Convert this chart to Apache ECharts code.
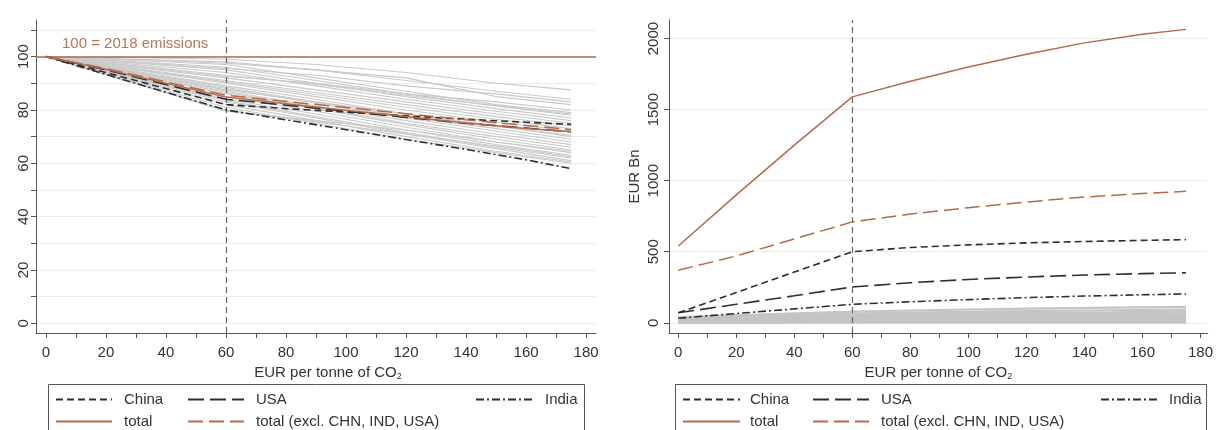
<!DOCTYPE html>
<html>
<head>
<meta charset="utf-8">
<script src="https://cdn.jsdelivr.net/npm/echarts@6/dist/echarts.min.js"></script>
<style>
html,body{margin:0;padding:0;background:#fff;}
#chart{width:1216px;height:430px;}
</style>
</head>
<body>
<div id="chart"></div>
<script>
// ---------- DATA ----------
// Left panel: emissions index (100 = 2018 emissions)
const priceL = [0, 20, 40, 60, 80, 100, 120, 140, 160, 175];
const chinaL = [100, 94, 88, 82, 80.5, 79.2, 77.8, 76.5, 75.4, 74.6];
const usaL   = [100, 95, 89.5, 84, 81.8, 79.5, 77.2, 75, 73.2, 71.8];
const indiaL = [100, 93.3, 86.6, 80, 76.3, 72.6, 68.9, 65.2, 61.3, 58];
const totalL = [100, 95.2, 90, 84.8, 82.3, 79.9, 77.5, 75.1, 73, 71.8];
const exclL  = [100, 95.5, 90.5, 85.5, 83.2, 80.9, 78.6, 76.3, 74.2, 72.6];

// Left panel: other countries (grey)
const priceGrey = [0, 30, 60, 90, 120, 150, 175];
const greyL = [
  [100, 99.6, 99, 97, 94, 90, 87.5],
  [100, 98.5, 97, 92, 87, 82, 79],
  [100, 98, 96, 91, 86, 81.5, 78],
  [100, 97.5, 95, 90, 85, 80.5, 77],
  [100, 97, 94, 89, 84, 79.5, 76],
  [100, 96.5, 93, 89.5, 85.5, 81.5, 78.5],
  [100, 96, 92, 87.5, 83, 78.5, 75],
  [100, 95.5, 91, 86.5, 82, 77.5, 74],
  [100, 95.2, 90.5, 85.8, 81, 76.5, 73],
  [100, 95, 90, 85, 80, 75.5, 72],
  [100, 94.5, 89, 84, 78.5, 74, 70],
  [100, 94.2, 88.5, 83, 77.5, 73, 69],
  [100, 94, 88, 82.5, 77, 72, 68],
  [100, 93.8, 87.5, 83, 78.5, 74, 70.5],
  [100, 93.5, 87, 81.5, 76, 71, 67],
  [100, 93.2, 86.5, 81, 75, 70, 66],
  [100, 93, 86, 80.5, 74.5, 69, 65],
  [100, 92.5, 85, 79.5, 73.5, 68, 64],
  [100, 92, 84, 78.5, 72.5, 67, 63],
  [100, 91.8, 83.5, 77.5, 71.5, 66, 62],
  [100, 91.5, 83, 77, 71, 65.5, 61],
  [100, 91, 82, 76, 70, 64.5, 60.5],
  [100, 90.5, 81, 75, 69, 64, 60],
  [100, 90, 80, 75.5, 71, 66.5, 62.5],
  [100, 89.8, 79.5, 76, 72.5, 68, 64.5],
  [100, 96.2, 92.5, 90, 86, 83, 80],
  [100, 97.8, 95.5, 93, 89, 86, 83],
  [100, 99, 98, 95, 91, 87, 84],
  [100, 98.8, 97.5, 95, 92, 85, 82]
];

// Right panel: revenue, EUR Bn
const priceR = [0, 20, 40, 60, 80, 100, 120, 140, 160, 175];
const totalR = [540, 900, 1250, 1590, 1700, 1800, 1890, 1970, 2030, 2065];
const exclR  = [370, 470, 590, 710, 765, 810, 850, 885, 910, 925];
const chinaR = [70, 213, 357, 500, 530, 548, 562, 572, 580, 585];
const usaR   = [70, 130, 190, 252, 282, 305, 322, 336, 346, 352];
const indiaR = [32, 65, 98, 130, 148, 163, 177, 188, 197, 203];
const greyR = [
  [40, 60, 78, 90, 100, 107, 112],
  [30, 48, 65, 75, 82, 88, 92],
  [25, 40, 55, 63, 70, 74, 78],
  [20, 33, 45, 52, 57, 61, 64],
  [16, 27, 38, 44, 48, 51, 54],
  [12, 22, 31, 36, 40, 42, 45],
  [10, 18, 26, 30, 33, 35, 37],
  [8, 14, 20, 24, 26, 28, 30],
  [6, 11, 16, 19, 21, 22, 24],
  [5, 9, 12, 14, 16, 17, 18],
  [4, 7, 9, 11, 12, 13, 14],
  [3, 5, 7, 8, 9, 10, 10],
  [2, 4, 5, 6, 7, 7, 8],
  [2, 3, 4, 4, 5, 5, 5],
  [1, 2, 2, 3, 3, 3, 3]
];

// Axis ticks / labels
const xTicks  = [0,10,20,30,40,50,60,70,80,90,100,110,120,130,140,150,160,170,180];
const xLabels = [0,20,40,60,80,100,120,140,160,180];
const yTicksL  = [0,10,20,30,40,50,60,70,80,90,100,110];
const yLabelsL = [0,20,40,60,80,100];
const yTicksR  = [0,500,1000,1500,2000];
const yLabelsR = [0,500,1000,1500,2000];
const refPrice = 60;
const baseLevel = 100;

// ---------- STYLE ----------
const BROWN = '#b5694b';
const DARK = '#2e2e2e';
const GREY = '#c9c9c9';
const FONT = '"Liberation Sans", Arial, sans-serif';
const dashChina = [7, 4];
const dashUSA = [16, 6];
const dashIndia = [8, 3, 2, 3];
const dashExcl = [15, 6];

function pairs(xs, ys){ return xs.map((x,i)=>[x, ys[i]]); }

const series = [];
greyL.forEach((g,i)=>series.push({
  type:'line', name:'gL'+i, xAxisIndex:0, yAxisIndex:0, data:pairs(priceGrey,g),
  symbol:'none', silent:true, lineStyle:{color:GREY, width:1.1}, z:1
}));
greyR.forEach((g,i)=>series.push({
  type:'line', name:'gR'+i, xAxisIndex:1, yAxisIndex:1, data:pairs(priceGrey,g),
  symbol:'none', silent:true, lineStyle:{color:'#c4c4c4', width:2.2}, z:1
}));

function mainSeries(idx, xs, c, u, ind, tot, exc){
  return [
    {type:'line', name:'China', xAxisIndex:idx, yAxisIndex:idx, data:pairs(xs,c), symbol:'none',
     lineStyle:{color:DARK, width:1.6, type:dashChina}, itemStyle:{color:DARK}, z:5,
     markLine:{silent:true, symbol:'none', label:{show:false}, animation:false,
       lineStyle:{color:'#666', width:1.2, type:[6,4]}, data:[{xAxis:refPrice}]}},
    {type:'line', name:'USA', xAxisIndex:idx, yAxisIndex:idx, data:pairs(xs,u), symbol:'none',
     lineStyle:{color:DARK, width:1.6, type:dashUSA}, itemStyle:{color:DARK}, z:5},
    {type:'line', name:'India', xAxisIndex:idx, yAxisIndex:idx, data:pairs(xs,ind), symbol:'none',
     lineStyle:{color:DARK, width:1.6, type:dashIndia}, itemStyle:{color:DARK}, z:5},
    {type:'line', name:'total', xAxisIndex:idx, yAxisIndex:idx, data:pairs(xs,tot), symbol:'none',
     lineStyle:{color:BROWN, width:1.5, type:'solid'}, itemStyle:{color:BROWN}, z:6},
    {type:'line', name:'total (excl. CHN, IND, USA)', xAxisIndex:idx, yAxisIndex:idx, data:pairs(xs,exc), symbol:'none',
     lineStyle:{color:BROWN, width:1.5, type:dashExcl}, itemStyle:{color:BROWN}, z:6}
  ];
}
const left = mainSeries(0, priceL, chinaL, usaL, indiaL, totalL, exclL);
left[3].markLine = {silent:true, symbol:'none', label:{show:false}, animation:false,
  lineStyle:{color:BROWN, width:1.5, type:'solid'}, data:[{yAxis:baseLevel}]};
series.push(...left);
series.push(...mainSeries(1, priceR, chinaR, usaR, indiaR, totalR, exclR));

const axisLineStyle = {color:'#555', width:1};
function xAxis(idx, min, max, namePad){
  return {type:'value', gridIndex:idx, min:min, max:max,
    axisLine:{show:true, onZero:false, lineStyle:axisLineStyle},
    axisTick:{show:true, length:5, customValues:xTicks, lineStyle:axisLineStyle},
    axisLabel:{customValues:xLabels, fontSize:15, color:'#333', fontFamily:FONT, margin:12},
    splitLine:{show:false},
    name:'EUR per tonne of CO{sub|2}', nameLocation:'middle', nameGap:29,
    nameTextStyle:{fontSize:15, color:'#333', fontFamily:FONT, padding:namePad,
      rich:{sub:{fontSize:9, color:'#333', fontFamily:FONT, verticalAlign:'bottom', padding:[8,0,0,0]}}}
  };
}
function yAxis(idx, min, max, ticks, labels, margin){
  return {type:'value', gridIndex:idx, min:min, max:max,
    axisLine:{show:true, onZero:false, lineStyle:axisLineStyle},
    axisTick:{show:true, length:5, customValues:ticks, lineStyle:axisLineStyle},
    axisLabel:{customValues:labels, fontSize:15, color:'#333', fontFamily:FONT, rotate:90, margin:margin,
      formatter:(v)=>String(v)},
    splitLine:{show:true, lineStyle:{color:'#ebebeb', width:1}}
  };
}
const yR = yAxis(1, -72, 2131, yTicksR, yLabelsR, 8);
yR.name = 'EUR Bn'; yR.nameLocation = 'middle'; yR.nameGap = 27;
yR.nameTextStyle = {fontSize:15, color:'#333', fontFamily:FONT};

function legendItem(name, x, y, w, gap){
  return {data:[name], left:x, top:y, itemWidth:w, itemHeight:14, padding:0, selectedMode:false,
    itemStyle:{opacity:0, color:'rgba(0,0,0,0)', borderColor:'rgba(0,0,0,0)', borderWidth:0},
    textStyle:{fontSize:15, color:'#333', fontFamily:FONT, padding:[0,0,0,gap]}};
}
const legends = [
  legendItem('China', 55, 392, 56, 7),
  legendItem('USA', 187, 392, 56, 7),
  legendItem('India', 475, 392, 59, 5),
  legendItem('total', 55, 414, 56, 7),
  legendItem('total (excl. CHN, IND, USA)', 187, 414, 56, 7),
  legendItem('China', 682, 392, 57, 5),
  legendItem('USA', 812, 392, 56, 7),
  legendItem('India', 1100, 392, 58, 5),
  legendItem('total', 682, 414, 57, 5),
  legendItem('total (excl. CHN, IND, USA)', 812, 414, 56, 7)
];

const option = {
  animation:false,
  backgroundColor:'#fff',
  textStyle:{fontFamily:FONT},
  grid:[
    {left:36, top:20, width:560, height:313},
    {left:669, top:20, width:544, height:313}
  ],
  xAxis:[xAxis(0, -3.3, 183.3, [0,0,0,24]), xAxis(1, -3.2, 182.5, 0)],
  yAxis:[yAxis(0, -3.6, 113.7, yTicksL, yLabelsL, 5), yR],
  legend:legends,
  graphic:[
    {type:'text', left:62, top:36, style:{text:'100 = 2018 emissions', fill:'#b77558', font:'15px "Liberation Sans", Arial, sans-serif'}},
    {type:'rect', shape:{x:48.5, y:384.5, width:536, height:60}, style:{fill:'none', stroke:'#555', lineWidth:1}},
    {type:'rect', shape:{x:675.5, y:384.5, width:531, height:60}, style:{fill:'none', stroke:'#555', lineWidth:1}}
  ],
  series:series
};
const chart = echarts.init(document.getElementById('chart'), null, {renderer:'canvas'});
chart.setOption(option);
</script>
</body>
</html>
